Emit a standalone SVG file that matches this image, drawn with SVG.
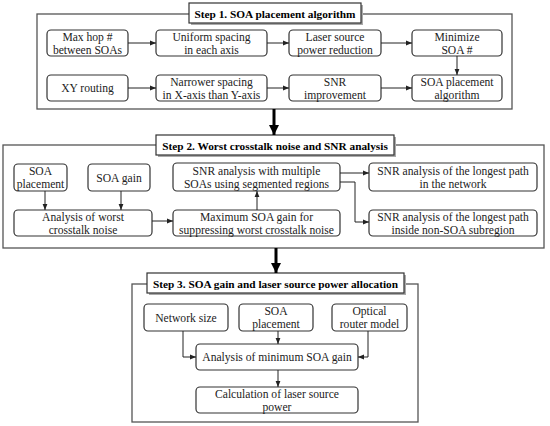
<svg xmlns="http://www.w3.org/2000/svg" width="550" height="426" viewBox="0 0 550 426" font-family="Liberation Serif, Times New Roman, serif">
<defs>
<marker id="ah" viewBox="0 0 10 10" refX="10" refY="5" markerWidth="6" markerHeight="6" orient="auto" markerUnits="userSpaceOnUse"><path d="M0,1 L10,5 L0,9 z" fill="#222"/></marker>
<marker id="big" viewBox="0 0 10 10" refX="10" refY="5" markerWidth="10" markerHeight="10" orient="auto" markerUnits="userSpaceOnUse"><path d="M0,0 L10,5 L0,10 z" fill="#000"/></marker>
</defs>
<style>
.outer{fill:#fff;stroke:#555;stroke-width:1.3}
.title{fill:#fff;stroke:#333;stroke-width:1.2}
.shadow{fill:#aaa}
.box{fill:#fff;stroke:#333;stroke-width:1.2}
text{font-size:11.6px;fill:#222;text-anchor:middle}
.t{font-weight:bold;font-size:11.3px;fill:#000}
.c{fill:none;stroke:#222;stroke-width:1}
.b{fill:none;stroke:#000;stroke-width:3}
</style>
<rect width="550" height="426" fill="#fff"/>
<g id="step1">
<rect class="outer" x="37" y="14" width="475" height="95"/>
<rect class="shadow" x="191" y="5" width="172" height="20"/>
<rect class="title" x="189" y="3" width="172" height="20"/>
<text class="t" x="275" y="17.5">Step 1. SOA placement algorithm</text>
</g>
<g id="n1"><rect class="box" x="47" y="30" width="81" height="26" rx="4"/><text x="87.5" y="41">Max hop #</text><text x="87.5" y="53.5">between SOAs</text></g>
<g id="n2"><rect class="box" x="156" y="30" width="111" height="26" rx="4"/><text x="211.5" y="41">Uniform spacing</text><text x="211.5" y="53.5">in each axis</text></g>
<g id="n3"><rect class="box" x="289" y="30" width="92" height="26" rx="4"/><text x="335" y="41">Laser source</text><text x="335" y="53.5">power reduction</text></g>
<g id="n4"><rect class="box" x="412" y="30" width="90" height="26" rx="4"/><text x="457" y="41">Minimize</text><text x="457" y="53.5">SOA #</text></g>
<g id="n5"><rect class="box" x="47" y="75" width="81" height="26" rx="4"/><text x="87.5" y="92">XY routing</text></g>
<g id="n6"><rect class="box" x="156" y="75" width="111" height="26" rx="4"/><text x="211.5" y="86">Narrower spacing</text><text x="211.5" y="98.5">in X-axis than Y-axis</text></g>
<g id="n7"><rect class="box" x="289" y="75" width="92" height="26" rx="4"/><text x="335" y="86">SNR</text><text x="335" y="98.5">improvement</text></g>
<g id="n8"><rect class="box" x="412" y="75" width="90" height="26" rx="4"/><text x="457" y="86">SOA placement</text><text x="457" y="98.5">algorithm</text></g>

<g id="step2">
<rect class="outer" x="3" y="145" width="541" height="103"/>
<rect class="shadow" x="158" y="137" width="238" height="20"/>
<rect class="title" x="156" y="135" width="238" height="20"/>
<text class="t" x="275" y="149.5">Step 2. Worst crosstalk noise and SNR analysis</text>
</g>
<g id="m1"><rect class="box" x="14" y="164" width="53" height="27" rx="4"/><text x="40.5" y="175">SOA</text><text x="40.5" y="188">placement</text></g>
<g id="m2"><rect class="box" x="88" y="164" width="62" height="27" rx="4"/><text x="119" y="182">SOA gain</text></g>
<g id="m3"><rect class="box" x="14" y="210" width="138" height="26" rx="4"/><text x="83" y="221">Analysis of worst</text><text x="83" y="233.5">crosstalk noise</text></g>
<g id="m4"><rect class="box" x="173" y="210" width="167" height="26" rx="4"/><text x="256.5" y="221">Maximum SOA gain for</text><text x="256.5" y="233.5">suppressing worst crosstalk noise</text></g>
<g id="m5"><rect class="box" x="173" y="163" width="167" height="28" rx="4"/><text x="256.5" y="175">SNR analysis with multiple</text><text x="256.5" y="188">SOAs using segmented regions</text></g>
<g id="m6"><rect class="box" x="369" y="163" width="168" height="28" rx="4"/><text x="453" y="175">SNR analysis of the longest path</text><text x="453" y="188">in the network</text></g>
<g id="m7"><rect class="box" x="369" y="210" width="168" height="26" rx="4"/><text x="453" y="221">SNR analysis of the longest path</text><text x="453" y="233.5">inside non-SOA subregion</text></g>

<g id="step3">
<rect class="outer" x="132" y="284" width="286" height="138"/>
<rect class="shadow" x="149" y="275" width="257" height="20"/>
<rect class="title" x="147" y="273" width="257" height="20"/>
<text class="t" x="275.5" y="287.5">Step 3. SOA gain and laser source power allocation</text>
</g>
<g id="k1"><rect class="box" x="144" y="304" width="84" height="27" rx="4"/><text x="186" y="322">Network size</text></g>
<g id="k2"><rect class="box" x="239" y="304" width="74" height="27" rx="4"/><text x="276" y="315">SOA</text><text x="276" y="328">placement</text></g>
<g id="k3"><rect class="box" x="332" y="304" width="75" height="27" rx="4"/><text x="369.5" y="315">Optical</text><text x="369.5" y="328">router model</text></g>
<g id="k4"><rect class="box" x="196" y="344" width="162" height="26" rx="4"/><text x="277" y="361">Analysis of minimum SOA gain</text></g>
<g id="k5"><rect class="box" x="196" y="387" width="162" height="26" rx="4"/><text x="277" y="398">Calculation of laser source</text><text x="277" y="410.5">power</text></g>

<g id="connectors">
<path class="c" d="M128,43 H156" marker-end="url(#ah)"/>
<path class="c" d="M267,43 H289" marker-end="url(#ah)"/>
<path class="c" d="M381,43 H412" marker-end="url(#ah)"/>
<path class="c" d="M457,56 V75" marker-end="url(#ah)"/>
<path class="c" d="M128,88 H156" marker-end="url(#ah)"/>
<path class="c" d="M267,88 H289" marker-end="url(#ah)"/>
<path class="c" d="M381,88 H412" marker-end="url(#ah)"/>
<path class="b" d="M274,109 V135" marker-end="url(#big)"/>
<path class="c" d="M45,191 V210" marker-end="url(#ah)"/>
<path class="c" d="M121,191 V210" marker-end="url(#ah)"/>
<path class="c" d="M152,221 H173" marker-end="url(#ah)"/>
<path class="c" d="M257,210 V191" marker-end="url(#ah)"/>
<path class="c" d="M340,173 H369" marker-end="url(#ah)"/>
<path class="c" d="M340,182 H355 V222 H369" marker-end="url(#ah)"/>
<path class="b" d="M276,248 V273" marker-end="url(#big)"/>
<path class="c" d="M183,331 V357 H196" marker-end="url(#ah)"/>
<path class="c" d="M278,331 V344" marker-end="url(#ah)"/>
<path class="c" d="M368,331 V357 H358" marker-end="url(#ah)"/>
<path class="c" d="M278,370 V387" marker-end="url(#ah)"/>
</g>
</svg>
